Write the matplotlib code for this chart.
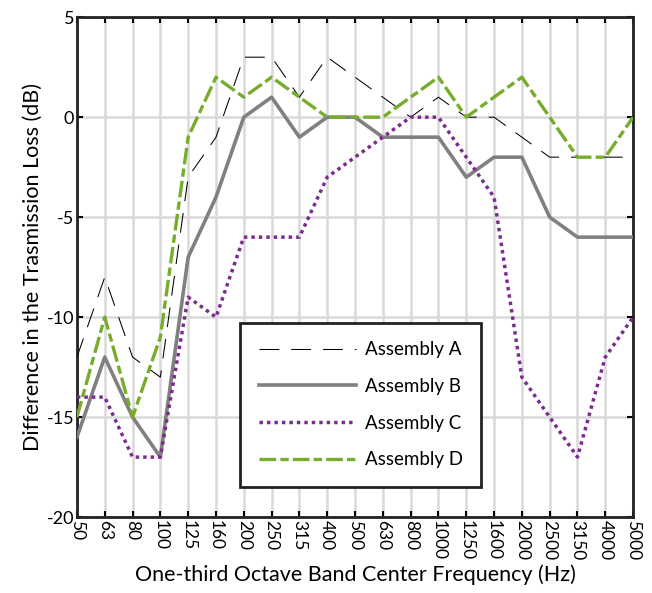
import numpy as np
import matplotlib
matplotlib.use('Agg')
import matplotlib.pyplot as plt

# one-third octave bands
bands = ['50', '63', '80', '100', '125', '160', '200', '250', '315', '400', '500',
         '630', '800', '1000', '1250', '1600', '2000', '2500', '3150', '4000', '5000']

asm_a = [-12, -8, -12, -13, -3, -1, 3, 3, 1, 3, 2, 1, 0, 1, 0, 0, -1, -2, -2, -2, -2]
asm_b = [-16, -12, -15, -17, -7, -4, 0, 1, -1, 0, 0, -1, -1, -1, -3, -2, -2, -5, -6, -6, -6]
asm_c = [-14, -14, -17, -17, -9, -10, -6, -6, -6, -3, -2, -1, 0, 0, -2, -4, -13, -15, -17, -12, -10]
asm_d = [-15, -10, -15, -11, -1, 2, 1, 2, 1, 0, 0, 0, 1, 2, 0, 1, 2, 0, -2, -2, 0]

yticks = [-20, -15, -10, -5, 0, 5]

font = 'Lato'

fig = plt.figure(figsize=(6.52, 5.93), dpi=100)
ax = fig.add_axes([0.118, 0.128, 0.853, 0.843])

x = np.arange(len(bands))

ax.plot(x, asm_a, color='black', lw=0.75, dashes=(19, 11.5), label='Assembly A', zorder=3)
ax.plot(x, asm_b, color='#808080', lw=2.6, label='Assembly B', zorder=3)
ax.plot(x, asm_c, color='#7b2d8e', lw=2.5, dashes=(1, 1.15), label='Assembly C', zorder=3)
ax.plot(x, asm_d, color='#77ad2b', lw=2.4, dashes=(5.0, 1.25, 2.5, 1.25), label='Assembly D', zorder=4)

ax.set_xlim(0, len(bands) - 1)
ax.set_ylim(-20, 5)
ax.set_xticks(x)
ax.set_xticklabels(bands, rotation=270, fontfamily=font, fontsize=12.5)
ax.set_yticks(yticks)
ax.set_yticklabels([str(v) for v in yticks], fontfamily=font, fontsize=13)

ax.grid(True, color='#d9d9d9', lw=1.8, zorder=0)
ax.set_axisbelow(True)

ax.tick_params(direction='in', length=4, width=1.5, top=True, right=True, pad=2)
for s in ax.spines.values():
    s.set_linewidth(2)
    s.set_color('#222222')

ax.set_xlabel('One-third Octave Band Center Frequency (Hz)', fontfamily=font, fontsize=15.5, labelpad=3)
ax.set_ylabel('Difference in the Trasmission Loss (dB)', fontfamily=font, fontsize=15.5, labelpad=3)

leg = ax.legend(loc='lower left', bbox_to_anchor=(0.293, 0.06), fancybox=False,
                framealpha=1, edgecolor='#222222', handlelength=5.2, handletextpad=0.45,
                borderpad=1.0, labelspacing=1.05, borderaxespad=0,
                prop={'family': font, 'size': 13.5})
leg.get_frame().set_linewidth(2)

fig.savefig('out.png', dpi=100)
